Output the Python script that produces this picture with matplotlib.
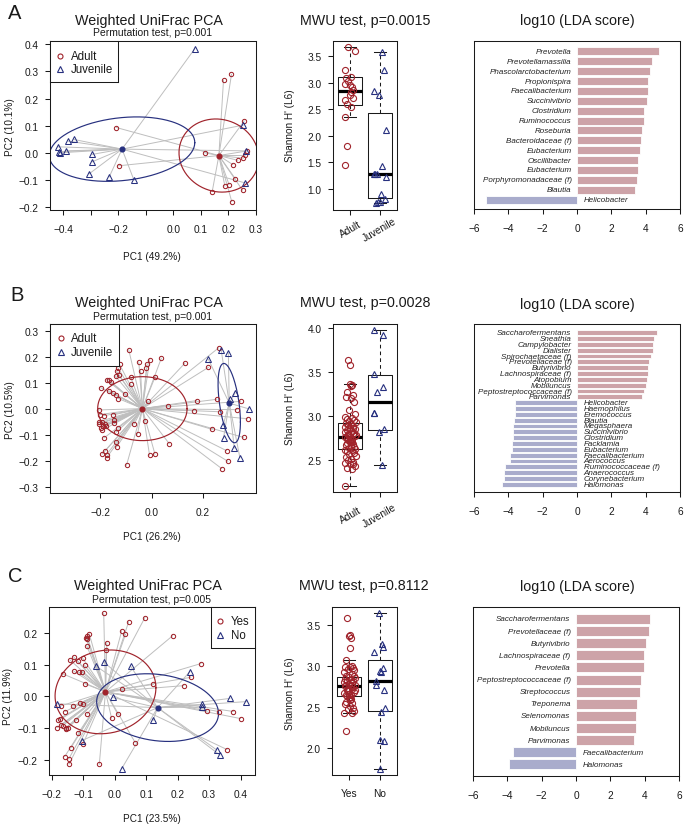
import numpy as np
import matplotlib
matplotlib.use("Agg")
import matplotlib.pyplot as plt
import matplotlib.transforms as mtrans

plt.rcParams['font.family'] = ['Liberation Sans', 'DejaVu Sans']
plt.rcParams['axes.linewidth'] = 0.75

# ---------------- data ----------------
# Panel A  (Adult vs Juvenile)
A_adult_pc1 = [-0.207, -0.199, 0.182, 0.211, 0.257, 0.113, 0.260, 0.269, 0.254, 0.234, 0.216, 0.225, 0.202, 0.187, 0.141, 0.251, 0.212]
A_adult_pc2 = [0.093, -0.048, 0.267, 0.289, 0.117, 0.000, -0.010, 0.007, -0.020, -0.028, -0.044, -0.096, -0.117, -0.123, -0.143, -0.138, -0.180]
A_juv_pc1 = [0.078, 0.254, 0.264, 0.260, -0.420, -0.417, -0.412, -0.390, -0.382, -0.361, -0.295, -0.294, -0.305, -0.233, -0.143]
A_juv_pc2 = [0.384, 0.102, 0.007, -0.111, 0.022, 0.004, 0.000, 0.007, 0.043, 0.049, -0.006, -0.033, -0.077, -0.089, -0.101]

A_adult_shannon = [3.67, 3.61, 3.24, 3.10, 3.09, 3.04, 2.98, 2.96, 2.92, 2.87, 2.82, 2.77, 2.72, 2.68, 2.59, 2.54, 2.35, 1.81, 1.45]
A_adult_jitter = [-0.06, 0.16, -0.17, 0.04, -0.13, -0.07, -0.19, 0.01, 0.06, 0.08, 0.02, 0.01, 0.09, -0.17, -0.10, 0.02, -0.16, -0.10, -0.17]
A_juv_shannon = [3.58, 3.25, 2.84, 2.77, 2.11, 1.43, 1.28, 1.28, 1.27, 1.21, 0.90, 0.80, 0.75, 0.74, 0.73]
A_juv_jitter = [0.08, 0.15, -0.21, -0.03, 0.20, 0.08, -0.18, -0.15, -0.10, 0.20, 0.04, 0.18, -0.07, 0.01, -0.12]
# box stats: median, q1, q3, lower whisker, upper whisker
A_box_adult = [2.85, 2.58, 3.10, 2.35, 3.67]
A_box_juv = [1.28, 0.83, 2.43, 0.73, 3.58]

A_lda_taxa = ["Prevotella", "Prevotellamassilia", "Phascolarctobacterium", "Propionispira",
              "Faecalibacterium", "Succinivibrio", "Clostridium", "Ruminococcus", "Roseburia",
              "Bacteroidaceae (f)", "Eubacterium", "Oscillibacter", "Eubacterium",
              "Porphyromonadaceae (f)", "Blautia", "Helicobacter"]
A_lda_score = [4.78, 4.35, 4.23, 4.16, 4.12, 4.10, 3.92, 3.90, 3.79, 3.71, 3.67, 3.57, 3.55, 3.51, 3.40, -5.28]

# Panel B  (Adult vs Juvenile)
B_adult_pc1 = [-0.089, -0.007, 0.038, -0.050, -0.017, -0.020, -0.043, -0.125, -0.130, -0.137, -0.129, -0.141,
               -0.082, 0.014, -0.176, -0.168, -0.158, -0.082, -0.198, -0.165, -0.151, -0.139, -0.103, -0.130,
               -0.014, -0.207, -0.202, -0.186, -0.150, -0.205, -0.194, -0.181, -0.147, -0.147, -0.205, -0.199,
               -0.189, -0.179, -0.195, -0.130, -0.139, -0.186, -0.139, -0.137, -0.193, -0.181, -0.176, -0.176,
               -0.098, -0.069, -0.055, -0.026, -0.008, 0.013, 0.069, 0.064, 0.130, 0.176, 0.165, 0.222,
               0.262, 0.255, 0.267, 0.237, 0.348, 0.335, 0.375, 0.360, 0.293, 0.298, 0.274]
B_adult_pc2 = [0.226, 0.189, 0.194, 0.179, 0.172, 0.155, 0.145, 0.170, 0.155, 0.144, 0.130, 0.125,
               0.123, 0.123, 0.111, 0.111, 0.102, 0.094, 0.080, 0.068, 0.059, 0.053, 0.055, 0.039,
               0.028, -0.005, -0.023, -0.027, -0.024, -0.050, -0.053, -0.059, -0.042, -0.055, -0.060, -0.073,
               -0.068, -0.066, -0.084, -0.075, -0.091, -0.113, -0.127, -0.148, -0.175, -0.162, -0.177, -0.189,
               -0.218, -0.060, -0.098, -0.048, -0.179, -0.175, -0.135, 0.012, 0.175, 0.031, -0.008, 0.159,
               0.234, 0.036, -0.012, -0.080, 0.028, -0.004, -0.039, -0.111, -0.162, -0.203, -0.231]
B_juv_pc1 = [0.222, 0.272, 0.300, 0.326, 0.305, 0.380, 0.280, 0.281, 0.323, 0.345]
B_juv_pc2 = [0.190, 0.226, 0.216, 0.060, 0.039, -0.001, -0.062, -0.114, -0.152, -0.189]

B_adult_shannon = [3.64, 3.58, 3.37, 3.36, 3.34, 3.28, 3.24, 3.22, 3.21, 3.16, 3.07, 3.02, 2.99, 2.98,
                   2.97, 2.96, 2.95, 2.93, 2.92, 2.91, 2.90, 2.89, 2.88, 2.87, 2.86, 2.85, 2.84, 2.83,
                   2.82, 2.81, 2.80, 2.80, 2.79, 2.78, 2.78, 2.77, 2.76, 2.76, 2.75, 2.74, 2.73, 2.72,
                   2.71, 2.70, 2.70, 2.69, 2.68, 2.67, 2.66, 2.65, 2.64, 2.63, 2.62, 2.61, 2.60, 2.58,
                   2.57, 2.55, 2.53, 2.51, 2.50, 2.48, 2.47, 2.46, 2.45, 2.43, 2.41, 2.40, 2.21]
B_juv_shannon = [3.98, 3.92, 3.48, 3.33, 3.27, 3.04, 3.04, 2.85, 2.82, 2.44]
B_juv_jitter = [-0.18, 0.12, -0.18, 0.12, -0.10, -0.20, -0.18, 0.13, -0.03, 0.06]
B_box_adult = [2.76, 2.63, 2.92, 2.21, 3.37]
B_box_juv = [3.16, 2.84, 3.47, 2.44, 3.98]

B_lda_taxa = ["Saccharofermentans", "Sneathia", "Campylobacter", "Dialister", "Spirochaetaceae (f)",
              "Prevotellaceae (f)", "Butyrivibrio", "Lachnospiraceae (f)", "Atopobium", "Mobiluncus",
              "Peptostreptococcaceae (f)", "Parvimonas", "Helicobacter", "Haemophilus", "Eremococcus",
              "Blautia", "Megasphaera", "Succinivibrio", "Clostridium", "Facklamia", "Eubacterium",
              "Faecalibacterium", "Aerococcus", "Ruminococcaceae (f)", "Anaerococcus",
              "Corynebacterium", "Halomonas"]
B_lda_score = [4.64, 4.49, 4.45, 4.43, 4.29, 4.19, 4.14, 4.12, 4.10, 4.04, 3.88, 3.77,
               -3.63, -3.63, -3.63, -3.67, -3.73, -3.73, -3.75, -3.77, -3.79, -3.88, -3.90,
               -4.21, -4.23, -4.25, -4.37]

# Panel C  (Yes vs No)
C_yes_pc1 = [-0.035, 0.044, 0.096, 0.022, 0.034, 0.184, -0.081, -0.088, -0.092, -0.087, -0.089, -0.025,
             -0.027, -0.131, -0.102, -0.142, -0.118, -0.163, -0.130, -0.115, -0.104, -0.096, -0.093, 0.123,
             0.024, 0.220, 0.242, 0.274, -0.170, -0.158, -0.134, -0.111, -0.101, -0.088, -0.123, -0.179,
             -0.175, -0.165, -0.183, -0.155, -0.156, -0.116, -0.101, -0.139, -0.159, -0.146, -0.145, -0.049,
             0.010, -0.010, 0.065, 0.293, 0.331, 0.377, 0.400, 0.357, -0.170, -0.150]
C_yes_pc2 = [0.260, 0.233, 0.247, 0.205, 0.194, 0.190, 0.196, 0.188, 0.184, 0.180, 0.159, 0.168,
             0.147, 0.124, 0.120, 0.114, 0.111, 0.070, 0.079, 0.076, 0.076, 0.098, 0.039, 0.038,
             0.022, 0.034, 0.060, 0.103, -0.029, -0.047, -0.030, -0.021, -0.025, -0.055, -0.074, -0.075,
             -0.069, -0.091, -0.097, -0.098, -0.103, -0.115, -0.149, -0.160, -0.188, -0.195, -0.211, -0.212,
             -0.056, -0.068, -0.144, -0.045, -0.047, -0.047, -0.069, -0.166, -0.090, -0.100]
C_no_pc1 = [-0.058, -0.035, 0.051, -0.007, -0.183, -0.105, 0.022, 0.122, 0.239, 0.278, 0.278, 0.366, 0.418, 0.324, 0.334]
C_no_pc2 = [0.094, 0.108, 0.094, -0.003, -0.023, -0.138, -0.226, -0.075, 0.078, -0.025, -0.033, -0.006, -0.016, -0.167, -0.183]

C_yes_shannon = [3.58, 3.37, 3.36, 3.34, 3.22, 3.07, 3.00, 2.99, 2.98, 2.97, 2.96, 2.95, 2.92, 2.90,
                 2.88, 2.87, 2.86, 2.85, 2.84, 2.83, 2.82, 2.81, 2.80, 2.79, 2.78, 2.77, 2.76, 2.76,
                 2.75, 2.74, 2.73, 2.72, 2.71, 2.70, 2.69, 2.68, 2.67, 2.66, 2.65, 2.64, 2.63, 2.62,
                 2.61, 2.60, 2.58, 2.56, 2.55, 2.53, 2.51, 2.49, 2.47, 2.45, 2.43, 2.42, 2.21]
C_no_shannon = [3.64, 3.26, 3.23, 3.17, 2.97, 2.94, 2.92, 2.82, 2.77, 2.71, 2.49, 2.44, 2.10, 2.08, 1.74]
C_no_jitter = [-0.02, 0.08, 0.11, -0.20, 0.13, 0.00, 0.04, -0.11, -0.11, 0.14, 0.19, 0.06, 0.00, 0.16, 0.00]
C_box_yes = [2.755, 2.63, 2.86, 2.42, 3.07]
C_box_no = [2.81, 2.45, 3.07, 1.74, 3.645]

C_lda_taxa = ["Saccharofermentans", "Prevotellaceae (f)", "Butyrivibrio", "Lachnospiraceae (f)",
              "Prevotella", "Peptostreptococcaceae (f)", "Streptococcus", "Treponema",
              "Selenomonas", "Mobiluncus", "Parvimonas", "Faecalibacterium", "Halomonas"]
C_lda_score = [4.31, 4.25, 4.10, 3.98, 3.96, 3.81, 3.75, 3.55, 3.51, 3.51, 3.36, -3.65, -3.90]

# jitter pattern for the dense strip charts
JITTER = [-0.08, 0.01, -0.02, 0.06, 0.03, -0.12, 0.09, -0.15, 0.02, 0.12, -0.05, 0.16, -0.18, 0.07,
          -0.10, 0.14, -0.03, 0.19, -0.14, 0.04, -0.07, 0.11, -0.19, 0.08, -0.01, 0.17, -0.12, 0.05,
          -0.16, 0.13, -0.06, 0.10, -0.09, 0.18, -0.04, 0.15, -0.17, 0.00, -0.11, 0.06]

# ---------------- style ----------------
RED = '#A0232B'
BLUE = '#27307F'
RED_BAR = '#CDA3A8'
BLUE_BAR = '#A9ACCC'
GRAY = '#BEBEBE'
DARK = '#1a1a1a'

W, H = 685, 828
fig = plt.figure(figsize=(W / 100, H / 100), dpi=100)
fig.patch.set_facecolor('white')


def add_ax(x0, y0, x1, y1):
    return fig.add_axes([x0 / W, 1 - y1 / H, (x1 - x0) / W, (y1 - y0) / H])


def ftext(x, y, s, **kw):
    fig.text(x / W, 1 - y / H, s, **kw)


def fmt(v, nd=1):
    s = f"{v:.{nd}f}"
    if float(s) == 0:
        s = s.lstrip('-')
    return s.replace('-', '\u2212')


def style(ax):
    ax.tick_params(direction='out', length=3.6, width=0.75, labelsize=7.3, colors=DARK)
    ax.tick_params(axis='x', pad=6.2)
    ax.tick_params(axis='y', pad=4.8)
    for sp in ax.spines.values():
        sp.set_color(DARK)
        sp.set_linewidth(0.75)


def pca_panel(rect, groups, xlim, ylim, xticks, xshow, yticks):
    ax = add_ax(*rect)
    t = np.linspace(0, 2 * np.pi, 300)
    for gx, gy, col, mk, ms in groups:
        gx = np.asarray(gx); gy = np.asarray(gy)
        cx, cy = gx.mean(), gy.mean()
        for x, y in zip(gx, gy):
            ax.plot([cx, x], [cy, y], color=GRAY, lw=0.7, zorder=1)
    for gx, gy, col, mk, ms in groups:
        gx = np.asarray(gx); gy = np.asarray(gy)
        L = np.linalg.cholesky(np.cov(gx, gy))
        e = L @ np.vstack([np.cos(t), np.sin(t)])
        ax.plot(gx.mean() + e[0], gy.mean() + e[1], color=col, lw=0.85, zorder=2)
    for gx, gy, col, mk, ms in groups:
        ax.plot(gx, gy, ls='none', marker=mk, ms=ms, mfc='none', mec=col, mew=0.75, zorder=3)
        ax.plot([np.mean(gx)], [np.mean(gy)], marker='o', ms=3.4, color=col, ls='none', zorder=4)
    ax.set_xlim(xlim); ax.set_ylim(ylim)
    ax.set_xticks(xticks)
    ax.set_xticklabels([fmt(v) if s else '' for v, s in zip(xticks, xshow)])
    ax.set_yticks(yticks)
    ax.set_yticklabels([fmt(v) for v in yticks])
    style(ax)
    return ax


def legend_box(x0, y0, x1, y1, entries):
    lax = add_ax(x0, y0, x1, y1)
    lax.set_xlim(x0, x1); lax.set_ylim(y1, y0)
    lax.set_xticks([]); lax.set_yticks([])
    lax.set_facecolor('white')
    for sp in lax.spines.values():
        sp.set_color(DARK); sp.set_linewidth(0.75)
    for mx, my, tx, label, col, mk, ms in entries:
        lax.plot([mx], [my], marker=mk, ms=ms, mfc='none', mec=col, mew=0.8, ls='none')
        lax.text(tx, my, label, ha='left', va='center', fontsize=8.3, color=DARK)


def box_panel(rect, g1, g2, stats, ylim, yticks, labels, rot, lab_y):
    ax = add_ax(*rect)
    st = [dict(med=s[0], q1=s[1], q3=s[2], whislo=s[3], whishi=s[4], fliers=[]) for s in stats]
    ax.bxp(st, positions=[1, 2], widths=0.8, showfliers=False, capwidths=0.4,
           boxprops=dict(color=DARK, lw=0.75),
           medianprops=dict(color='black', lw=2.3, solid_capstyle='butt'),
           whiskerprops=dict(color=DARK, lw=0.75, ls=(0, (3.5, 3))),
           capprops=dict(color=DARK, lw=0.75))
    (v1, j1), (v2, j2) = g1, g2
    ax.plot(1 + np.asarray(j1), v1, ls='none', marker='o', ms=4.4, mfc='none', mec=RED, mew=0.8, zorder=5)
    ax.plot(2 + np.asarray(j2), v2, ls='none', marker='^', ms=5.0, mfc='none', mec=BLUE, mew=0.8, zorder=5)
    ax.set_xlim(0.42, 2.58); ax.set_ylim(ylim)
    ax.set_yticks(yticks); ax.set_yticklabels([fmt(v) for v in yticks])
    ax.set_xticks([1, 2]); ax.set_xticklabels(['', ''])
    style(ax)
    tr = mtrans.blended_transform_factory(ax.transData, fig.transFigure)
    for xp, lab in zip([1, 2], labels):
        ax.text(xp, 1 - lab_y / H, lab, transform=tr, rotation=rot, ha='center', va='center',
                fontsize=7.3, color=DARK)
    return ax


def lda_panel(rect, taxa, scores, ylim):
    ax = add_ax(*rect)
    n = len(taxa)
    ypos = np.arange(n)[::-1]
    cols = [RED_BAR if s > 0 else BLUE_BAR for s in scores]
    ax.barh(ypos, scores, height=0.82, color=cols, edgecolor='white', linewidth=0.6)
    for y, s, name in zip(ypos, scores, taxa):
        if s > 0:
            ax.text(-0.32, y, name, ha='right', va='center', style='italic', fontsize=5.8, color='#222')
        else:
            ax.text(0.38, y, name, ha='left', va='center', style='italic', fontsize=5.8, color='#222')
    ax.set_xlim(-6, 6); ax.set_ylim(ylim)
    ax.set_yticks([])
    ticks = list(range(-6, 7, 2))
    ax.set_xticks(ticks); ax.set_xticklabels([fmt(v, 0) for v in ticks])
    style(ax)
    return ax


# ---------------- Panel A ----------------
pca_panel((50, 42, 256, 211),
          [(A_adult_pc1, A_adult_pc2, RED, 'o', 3.1), (A_juv_pc1, A_juv_pc2, BLUE, '^', 3.7)],
          (-0.448, 0.298), (-0.211, 0.412),
          [-0.4, -0.3, -0.2, -0.1, 0.0, 0.1, 0.2, 0.3], [1, 0, 1, 0, 1, 1, 1, 1],
          [-0.2, -0.1, 0.0, 0.1, 0.2, 0.3, 0.4])
legend_box(50, 42, 118, 83, [(60, 57, 71, 'Adult', RED, 'o', 3.6), (60, 70, 71, 'Juvenile', BLUE, '^', 4.2)])
ftext(149, 21, 'Weighted UniFrac PCA', ha='center', va='center', fontsize=10.3, color=DARK)
ftext(153, 33.5, 'Permutation test, p=0.001', ha='center', va='center', fontsize=7.5, color=DARK)
ftext(152, 257, 'PC1 (49.2%)', ha='center', va='center', fontsize=7.2, color=DARK)
ftext(10, 127, 'PC2 (10.1%)', ha='center', va='center', rotation=90, fontsize=7.2, color=DARK)

box_panel((333, 42, 397, 211), (A_adult_shannon, A_adult_jitter), (A_juv_shannon, A_juv_jitter),
          [A_box_adult, A_box_juv], (0.595, 3.79), [1.0, 1.5, 2.0, 2.5, 3.0, 3.5],
          ['Adult', 'Juvenile'], 30, 230)
ftext(365, 21, 'MWU test, p=0.0015', ha='center', va='center', fontsize=10.3, color=DARK)
ftext(290, 126, "Shannon H' (L6)", ha='center', va='center', rotation=90, fontsize=7.2, color=DARK)

lda_panel((474, 42, 680, 210), A_lda_taxa, A_lda_score, (-0.95, 16.05))
ftext(577, 21, 'log10 (LDA score)', ha='center', va='center', fontsize=10.3, color=DARK)
ftext(8, 19, 'A', ha='left', va='baseline', fontsize=14.5, color=DARK)

# ---------------- Panel B ----------------
pca_panel((50, 325, 256, 494),
          [(B_adult_pc1, B_adult_pc2, RED, 'o', 3.1), (B_juv_pc1, B_juv_pc2, BLUE, '^', 3.7)],
          (-0.397, 0.408), (-0.325, 0.326),
          [-0.2, 0.0, 0.2], [1, 1, 1],
          [-0.3, -0.2, -0.1, 0.0, 0.1, 0.2, 0.3])
legend_box(50, 325, 119, 367, [(61, 339, 71, 'Adult', RED, 'o', 3.6), (61, 353, 71, 'Juvenile', BLUE, '^', 4.2)])
ftext(149, 303, 'Weighted UniFrac PCA', ha='center', va='center', fontsize=10.3, color=DARK)
ftext(153, 316.5, 'Permutation test, p=0.001', ha='center', va='center', fontsize=7.5, color=DARK)
ftext(152, 537, 'PC1 (26.2%)', ha='center', va='center', fontsize=7.2, color=DARK)
ftext(10, 410, 'PC2 (10.5%)', ha='center', va='center', rotation=90, fontsize=7.2, color=DARK)

B_adult_jitter = np.resize(JITTER, len(B_adult_shannon))
box_panel((333, 325, 397, 493), (B_adult_shannon, B_adult_jitter), (B_juv_shannon, B_juv_jitter),
          [B_box_adult, B_box_juv], (2.136, 4.05), [2.5, 3.0, 3.5, 4.0],
          ['Adult', 'Juvenile'], 30, 516)
ftext(365, 303, 'MWU test, p=0.0028', ha='center', va='center', fontsize=10.3, color=DARK)
ftext(290, 409, "Shannon H' (L6)", ha='center', va='center', rotation=90, fontsize=7.2, color=DARK)

lda_panel((474, 325, 680, 493), B_lda_taxa, B_lda_score, (-1.32, 27.49))
ftext(577, 305, 'log10 (LDA score)', ha='center', va='center', fontsize=10.3, color=DARK)
ftext(10, 301, 'B', ha='left', va='baseline', fontsize=14.5, color=DARK)

# ---------------- Panel C ----------------
pca_panel((49, 608, 255, 776),
          [(C_yes_pc1, C_yes_pc2, RED, 'o', 3.1), (C_no_pc1, C_no_pc2, BLUE, '^', 3.7)],
          (-0.209, 0.446), (-0.2456, 0.280),
          [-0.2, -0.1, 0.0, 0.1, 0.2, 0.3, 0.4], [1, 1, 1, 1, 1, 1, 1],
          [-0.2, -0.1, 0.0, 0.1, 0.2])
legend_box(211, 608, 255, 649, [(220, 622, 231, 'Yes', RED, 'o', 3.6), (220, 636, 231, 'No', BLUE, '^', 4.2)])
ftext(148, 586, 'Weighted UniFrac PCA', ha='center', va='center', fontsize=10.3, color=DARK)
ftext(152, 600, 'Permutation test, p=0.005', ha='center', va='center', fontsize=7.5, color=DARK)
ftext(152, 819, 'PC1 (23.5%)', ha='center', va='center', fontsize=7.2, color=DARK)
ftext(8, 697, 'PC2 (11.9%)', ha='center', va='center', rotation=90, fontsize=7.2, color=DARK)

C_yes_jitter = np.resize(JITTER, len(C_yes_shannon))
box_panel((332, 608, 397, 776), (C_yes_shannon, C_yes_jitter), (C_no_shannon, C_no_jitter),
          [C_box_yes, C_box_no], (1.671, 3.715), [2.0, 2.5, 3.0, 3.5],
          ['Yes', 'No'], 0, 794)
ftext(364, 586, 'MWU test, p=0.8112', ha='center', va='center', fontsize=10.3, color=DARK)
ftext(290, 694, "Shannon H' (L6)", ha='center', va='center', rotation=90, fontsize=7.2, color=DARK)

lda_panel((473, 608, 679, 777), C_lda_taxa, C_lda_score, (-0.96, 12.99))
ftext(577, 587, 'log10 (LDA score)', ha='center', va='center', fontsize=10.3, color=DARK)
ftext(8, 582, 'C', ha='left', va='baseline', fontsize=14.5, color=DARK)

fig.savefig('out.png', dpi=100, facecolor='white')
